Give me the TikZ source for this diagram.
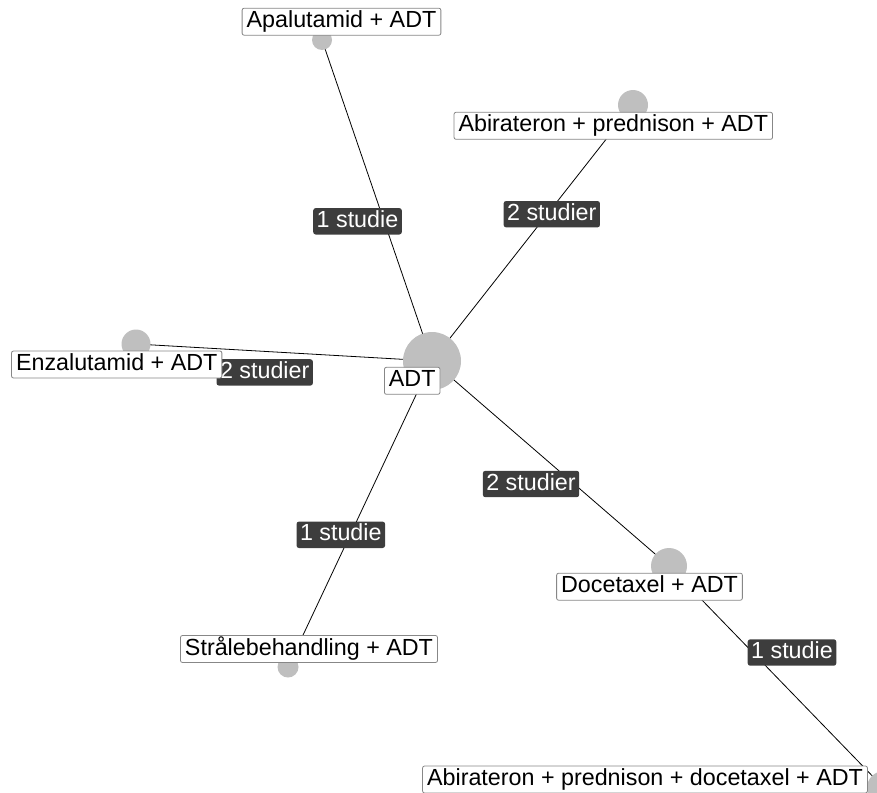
\documentclass[tikz,border=0pt]{standalone}
\usepackage{fontspec}
\setmainfont{Liberation Sans}
\pgfdeclarelayer{edges}
\pgfdeclarelayer{elabels}
\pgfsetlayers{edges,elabels,main}
\definecolor{dotgray}{RGB}{191,191,191}
\definecolor{boxborder}{RGB}{135,135,135}
\definecolor{elabfill}{RGB}{61,61,61}
\tikzset{
  bubble/.style={circle, fill=dotgray, draw=none, inner sep=0pt, minimum size=#1},
  trt/.style={draw=boxborder, line width=0.8pt, fill=white, rounded corners=2pt,
    font=\fontsize{23.3}{27}\selectfont, text height=17pt, text depth=5pt,
    inner xsep=4.5pt, inner ysep=2.5pt},
  elab/.style={fill=elabfill, text=white, rounded corners=2.5pt,
    font=\fontsize{23.3}{27}\selectfont, text height=17pt, text depth=5pt,
    inner xsep=3.5pt, inner ysep=2.2pt},
  link/.style={draw=black, line width=0.8pt}
}
\begin{document}
\begin{tikzpicture}[x=1pt,y=-1pt]
\useasboundingbox (0,0) rectangle (877,792);
\clip (0,0) rectangle (877,792);
% treatment markers
\node[bubble=58pt] (cADT) at (432,361) {};
\node[bubble=20pt] (cApa) at (322,40) {};
\node[bubble=30pt] (cAPA) at (633,105) {};
\node[bubble=29pt] (cEnz) at (136,344) {};
\node[bubble=36pt] (cDoc) at (669,566) {};
\node[bubble=21pt] (cStr) at (288,667) {};
\node[bubble=34pt] (cAPDA) at (884,788) {};
% connectors
\begin{pgfonlayer}{edges}
\draw[link] (cADT.center) -- (cApa.center);
\draw[link] (cADT.center) -- (cAPA.center);
\draw[link] (cADT.center) -- (cEnz.center);
\draw[link] (cADT.center) -- (cDoc.center);
\draw[link] (cADT.center) -- (cStr.center);
\draw[link] (cDoc.center) -- (cAPDA.center);
\end{pgfonlayer}
% edge labels
\begin{pgfonlayer}{elabels}
\node[elab] (eApa) at (357.5,221.3) {1 studie};
\node[elab] (eAPA) at (551.8,214.2) {2 studier};
\node[elab] (eEnz) at (264.7,372.4) {2 studier};
\node[elab] (eDoc) at (531,484) {2 studier};
\node[elab] (eStr) at (340.8,534.8) {1 studie};
\node[elab] (eAPDA) at (792,652.5) {1 studie};
\end{pgfonlayer}
% treatment labels
\node[trt] (lADT) at (412.2,380.8) {ADT};
\node[trt] (lApa) at (341.5,21.7) {Apalutamid + ADT};
\node[trt] (lAPA) at (613.3,125.8) {Abirateron + prednison + ADT};
\node[trt] (lEnz) at (116.7,364.5) {Enzalutamid + ADT};
\node[trt] (lDoc) at (649.5,586.7) {Docetaxel + ADT};
\node[trt] (lStr) at (309,649) {Strålebehandling + ADT};
\node[trt] (lAPDA) at (645,779.5) {Abirateron + prednison + docetaxel + ADT};
\end{tikzpicture}
\end{document}
